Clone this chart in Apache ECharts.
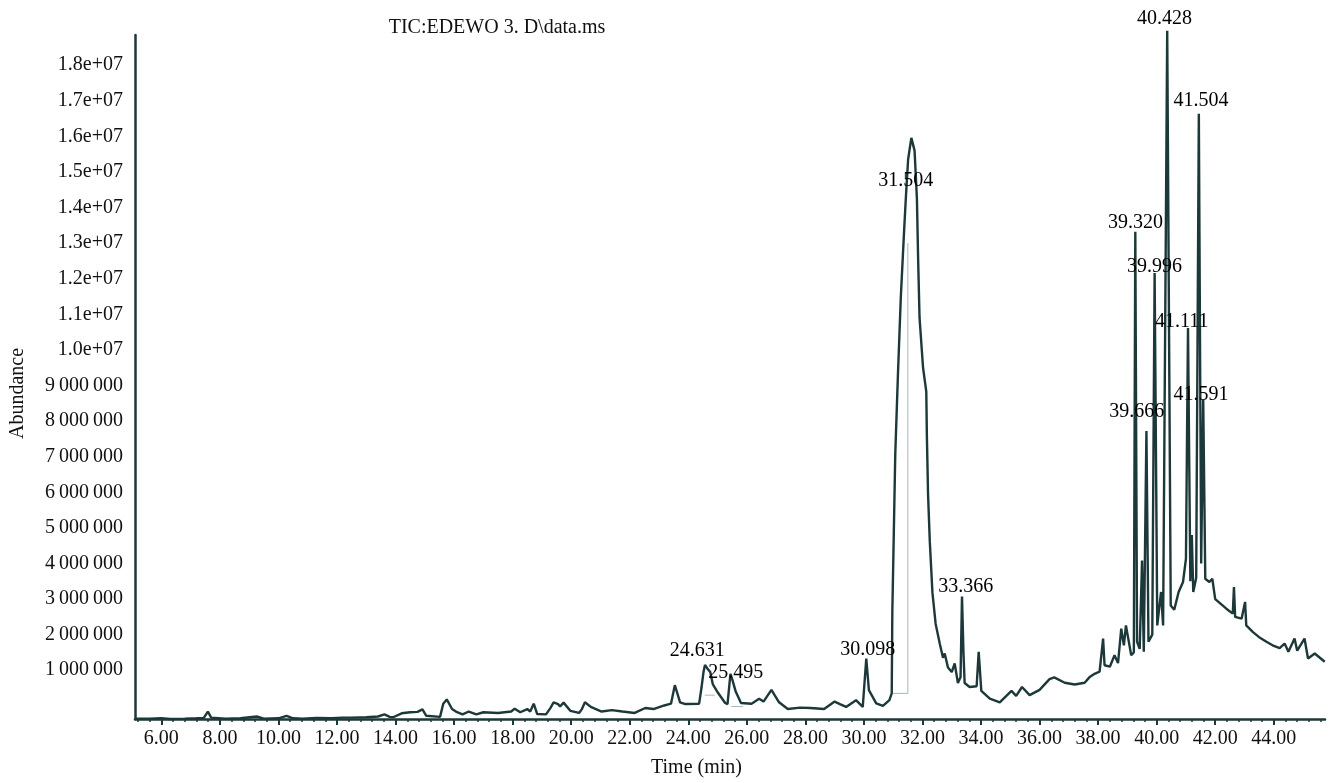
<!DOCTYPE html>
<html>
<head>
<meta charset="utf-8">
<title>TIC chromatogram</title>
<script src="https://cdn.jsdelivr.net/npm/echarts@6/dist/echarts.min.js"></script>
<style>
  html, body { margin: 0; padding: 0; background: #fff; }
  #main { width: 1331px; height: 783px; }
</style>
</head>
<body>
<div id="main"></div>
<script>
// retention time (min) and abundance
var times = [
  5.10, 5.60, 6.00, 6.30, 6.80, 7.20, 7.45, 7.59, 7.70, 8.20, 8.70, 9.26, 9.50, 10.00, 10.28, 10.50,
  10.82, 11.30, 11.80, 12.20, 12.49, 13.00, 13.40, 13.62, 13.80, 13.92, 14.21, 14.50, 14.75, 14.92,
  15.05, 15.10, 15.52, 15.63, 15.75, 15.93, 16.10, 16.29, 16.50, 16.76, 17.00, 17.50, 17.95, 18.07,
  18.26, 18.50, 18.60, 18.72, 18.84, 19.14, 19.30, 19.40, 19.55, 19.62, 19.74, 19.97, 20.27, 20.36,
  20.47, 20.67, 21.04, 21.39, 21.75, 22.17, 22.53, 22.81, 23.18, 23.41, 23.54, 23.72, 23.90, 24.37,
  24.45, 24.52, 24.57, 24.65, 24.75, 24.84, 25.02, 25.26, 25.34, 25.44, 25.50, 25.62, 25.80, 26.16,
  26.42, 26.57, 26.84, 26.95, 27.10, 27.40, 27.82, 28.17, 28.64, 29.00, 29.18, 29.39, 29.73, 29.96,
  30.08, 30.17, 30.42, 30.65, 30.87, 30.95, 30.97, 31.02, 31.07, 31.16, 31.26, 31.36, 31.43, 31.51,
  31.62, 31.73, 31.81, 31.85, 31.90, 32.02, 32.13, 32.15, 32.19, 32.25, 32.34, 32.45, 32.59, 32.70,
  32.76, 32.87, 33.00, 33.10, 33.21, 33.30, 33.35, 33.40, 33.44, 33.61, 33.85, 33.92, 34.01, 34.30,
  34.64, 35.04, 35.20, 35.40, 35.66, 36.00, 36.34, 36.50, 36.86, 37.20, 37.54, 37.70, 37.88, 38.05,
  38.17, 38.22, 38.40, 38.56, 38.68, 38.79, 38.88, 38.95, 39.13, 39.22, 39.27, 39.33, 39.42, 39.50,
  39.56, 39.65, 39.72, 39.85, 39.93, 40.02, 40.15, 40.22, 40.36, 40.48, 40.60, 40.75, 40.90, 41.00,
  41.07, 41.15, 41.20, 41.25, 41.35, 41.44, 41.52, 41.59, 41.66, 41.80, 41.90, 42.00, 42.38, 42.60,
  42.64, 42.68, 42.90, 43.02, 43.06, 43.29, 43.50, 43.75, 43.96, 44.20, 44.37, 44.50, 44.71, 44.80,
  45.05, 45.17, 45.40, 45.74
];
var abundance = [
  -360000, -360000, -350000, -370000, -360000, -350000, -340000, -160000, -330000, -360000, -350000, -300000, -360000, -350000, -280000, -350000,
  -360000, -340000, -350000, -330000, -330000, -320000, -300000, -240000, -310000, -320000, -210000, -180000, -170000, -100000,
  -280000, -310000, -310000, 60000, 180000, -90000, -180000, -240000, -160000, -240000, -180000, -200000, -160000, -80000,
  -180000, -90000, -160000, 60000, -230000, -240000, -50000, 100000, 50000, -20000, 90000, -140000, -200000, -100000,
  100000, -30000, -160000, -120000, -160000, -200000, -60000, -90000, 10000, 60000, 580000, 100000, 50000, 60000,
  500000, 950000, 1150000, 1050000, 950000, 600000, 360000, 80000, 50000, 900000, 750000, 400000, 80000, 60000,
  200000, 120000, 450000, 300000, 100000, -90000, -50000, -60000, -90000, 120000, 50000, -30000, 160000, -30000,
  1330000, 440000, 70000, 0, 160000, 350000, 2630000, 4840000, 7060000, 9270000, 11480000, 13150000, 14250000, 15360000,
  15960000, 15600000, 14250000, 12600000, 10900000, 9500000, 8830000, 7600000, 5950000, 4620000, 3180000, 2300000, 1750000, 1350000,
  1470000, 1080000, 950000, 1190000, 640000, 800000, 3070000, 1500000, 640000, 530000, 550000, 1520000, 420000, 200000,
  100000, 420000, 280000, 530000, 300000, 450000, 750000, 800000, 650000, 600000, 650000, 800000, 900000, 960000,
  1890000, 1140000, 1100000, 1420000, 1200000, 2170000, 1700000, 2260000, 1420000, 1500000, 13320000, 1800000, 1600000, 4080000,
  1520000, 7720000, 1800000, 2000000, 12160000, 2260000, 3200000, 2260000, 18970000, 2820000, 2700000, 3200000, 3480000, 4130000,
  10620000, 3500000, 4800000, 3200000, 3600000, 16640000, 4000000, 8600000, 3570000, 3480000, 3570000, 3000000, 2730000, 2590000,
  3340000, 2500000, 2450000, 2920000, 2260000, 2070000, 1930000, 1800000, 1700000, 1620000, 1750000, 1520000, 1890000, 1550000,
  1890000, 1330000, 1470000, 1240000
];

// integration baselines drawn in light grey by the data system
var baselineTimes = [[24.56, 24.90], [25.47, 25.87], [30.99, 31.50, 31.50]];
var baselineAbund = [[300000, 300000], [-20000, -20000], [350000, 350000, 13000000]];

// peak annotations: text and the spot (time, abundance) where each sits
var peakLabels = ['24.631', '25.495', '30.098', '31.504', '33.366', '39.320', '39.666',
                  '39.996', '40.428', '41.111', '41.504', '41.591'];
var peakLabelTimes = [24.31, 25.62, 30.13, 31.43, 33.48, 39.28, 39.32, 39.93, 40.27, 40.86, 41.51, 41.51];
var peakLabelAbund = [1550000, 940000, 1580000, 14750000, 3340000, 13580000, 8250000,
                      12340000, 19310000, 10800000, 17010000, 8750000];

var xTickLabels = [6, 8, 10, 12, 14, 16, 18, 20, 22, 24, 26, 28, 30, 32, 34, 36, 38, 40, 42, 44];
var yTickLabels = [1000000, 2000000, 3000000, 4000000, 5000000, 6000000, 7000000, 8000000, 9000000,
                   10000000, 11000000, 12000000, 13000000, 14000000, 15000000, 16000000, 17000000, 18000000];

var FONT = '"Liberation Serif", "DejaVu Serif", serif';
var INK = '#1d3839';

var minorTicks = [];
for (var m = 5.2; m < 45.7; m += 0.4) minorTicks.push(+m.toFixed(1));

function yFmt(v) {
    if (v >= 10000000) return (v / 10000000).toFixed(1) + 'e+07';
    return String(v).replace(/\B(?=(\d{3})+(?!\d))/g, '\u2009');
}

var series = [{
    name: 'TIC',
    type: 'line',
    data: times.map(function (t, i) { return [t, abundance[i]]; }),
    showSymbol: false,
    clip: false,
    lineStyle: { color: INK, width: 2.4 },
    z: 3
}];

baselineTimes.forEach(function (seg, k) {
    series.push({
        type: 'line',
        data: seg.map(function (t, i) { return [t, baselineAbund[k][i]]; }),
        showSymbol: false,
        lineStyle: { color: '#a9b5b5', width: 1 },
        z: 2
    });
});

series.push({
    type: 'scatter',
    data: peakLabelTimes.map(function (t, i) { return [t, peakLabelAbund[i], peakLabels[i]]; }),
    symbol: 'circle',
    symbolSize: 1,
    itemStyle: { color: 'rgba(255,255,255,0)' },
    clip: false,
    silent: true,
    label: {
        show: true,
        position: 'inside',
        formatter: function (p) { return p.value[2]; },
        color: '#000',
        opacity: 1,
        textBorderWidth: 0,
        fontFamily: FONT,
        fontSize: 20
    },
    z: 5
});

var myChart = echarts.init(document.getElementById('main'));
myChart.setOption({
    animation: false,
    backgroundColor: '#fff',
    title: {
        text: 'TIC:EDEWO 3. D\\data.ms',
        left: 492,
        top: 13,
        textAlign: 'center',
        textStyle: { color: '#111', fontFamily: FONT, fontSize: 20, fontWeight: 'normal' }
    },
    grid: { left: 134, right: 6, top: 35, bottom: 62 },
    xAxis: [{
        type: 'value',
        min: 5.1,
        max: 45.75,
        name: 'Time (min)',
        nameLocation: 'middle',
        nameGap: 39,
        nameTextStyle: { color: '#111', fontFamily: FONT, fontSize: 20, padding: [0, 67, 0, 0] },
        axisLine: { onZero: false, lineStyle: { color: INK, width: 2.5 } },
        axisTick: { show: true, length: 6, customValues: xTickLabels, lineStyle: { color: INK, width: 2 } },
        axisLabel: {
            customValues: xTickLabels,
            margin: 10,
            color: '#111',
            fontFamily: FONT,
            fontSize: 20,
            formatter: function (v) { return v.toFixed(2); }
        },
        splitLine: { show: false }
    }, {
        type: 'value',
        min: 5.1,
        max: 45.75,
        position: 'bottom',
        axisLine: { show: false, onZero: false },
        axisTick: { show: true, length: 3, customValues: minorTicks, lineStyle: { color: INK, width: 1.5 } },
        axisLabel: { show: false },
        splitLine: { show: false }
    }],
    yAxis: {
        type: 'value',
        min: -370000,
        max: 18850000,
        name: 'Abundance',
        nameLocation: 'middle',
        nameGap: 107,
        nameTextStyle: { color: '#111', fontFamily: FONT, fontSize: 20, padding: [0, 33, 0, 0] },
        axisLine: { show: true, lineStyle: { color: INK, width: 2.5 } },
        axisTick: { show: false },
        axisLabel: {
            customValues: yTickLabels,
            margin: 12,
            color: '#111',
            fontFamily: FONT,
            fontSize: 20,
            formatter: yFmt
        },
        splitLine: { show: false }
    },
    series: series
});
</script>
</body>
</html>
